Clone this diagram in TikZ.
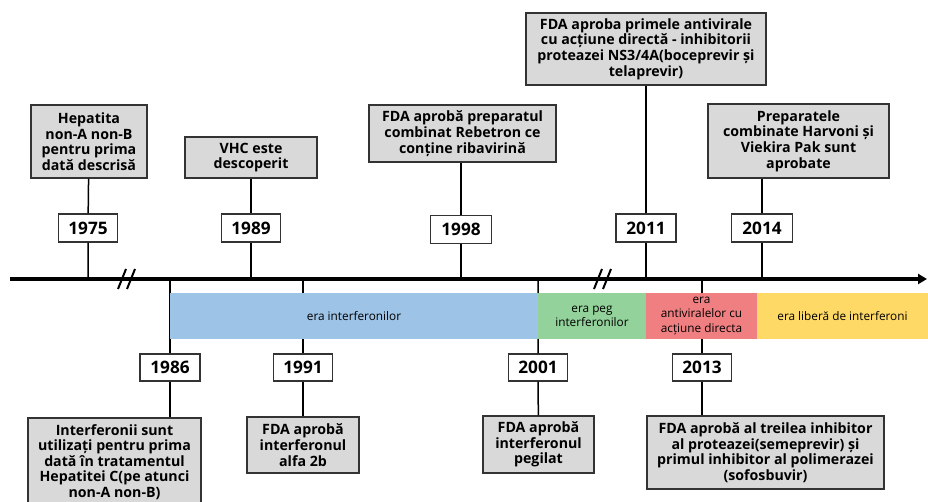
\documentclass[tikz,border=0pt]{standalone}
\usepackage{fontspec}
\setmainfont{Open Sans}
\usetikzlibrary{arrows.meta}
\definecolor{eraBlue}{HTML}{9DC3E6}
\definecolor{eraGreen}{HTML}{93D29A}
\definecolor{eraRed}{HTML}{F07F82}
\definecolor{eraYellow}{HTML}{FFD966}
\tikzset{
	event/.style={draw=black!80, line width=1.2pt, fill=black!15, inner sep=0pt, align=center,
		font=\fontsize{14.2}{15.6}\selectfont\bfseries},
	year/.style={draw=black!80, line width=1.2pt, fill=white, inner sep=0pt,
		minimum width=59pt, minimum height=28pt, font=\fontsize{17.2}{19}\selectfont\bfseries},
	era/.style={inner sep=0pt, minimum height=46pt, align=center,
		font=\fontsize{11.8}{14.3}\selectfont},
	stem/.style={line width=1.5pt},
}

\begin{document}
\begin{tikzpicture}[x=1pt, y=-1pt]
			%%%%% START %%%%%
			\useasboundingbox (0, 0) rectangle (928, 502);
			
			% axis
			\coordinate (axisL) at (10, 279);
			\coordinate (axisR) at (927, 279);
			\coordinate (t1975) at (88, 279);
			\coordinate (t1986) at (170, 279);
			\coordinate (t1989) at (251, 279);
			\coordinate (t1991) at (303, 279);
			\coordinate (t1998) at (461, 279);
			\coordinate (t2001) at (538, 279);
			\coordinate (t2011) at (646, 279);
			\coordinate (t2013) at (702, 279);
			\coordinate (t2014) at (762, 279);
			
			% years above
			\node[year] (y1975) at (88, 228) {1975};
			\node[year] (y1989) at (251, 228) {1989};
			\node[year, minimum width=61pt] (y1998) at (461, 229.5) {1998};
			\node[year, minimum width=60pt] (y2011) at (646, 228) {2011};
			\node[year, minimum width=61pt] (y2014) at (762, 228) {2014};
			
			% years below
			\node[year, minimum width=60pt, minimum height=27pt] (y1986) at (170, 367.5) {1986};
			\node[year, minimum height=27pt] (y1991) at (303, 367.5) {1991};
			\node[year, minimum height=27pt] (y2001) at (538, 367.5) {2001};
			\node[year, minimum height=27pt] (y2013) at (702, 367.5) {2013};
			
			% events above
			\node[event, minimum width=116pt, minimum height=73pt] (ev1975) at (89, 141.5)
				{Hepatita\\non-A non-B\\pentru prima\\dată descrisă};
			\node[event, minimum width=132pt, minimum height=41pt] (ev1989) at (251, 157.5)
				{VHC este\\descoperit};
			\node[event, minimum width=187pt, minimum height=57pt] (ev1998) at (462.5, 133.5)
				{FDA aprobă preparatul\\combinat Rebetron ce\\conține ribavirină};
			\node[event, minimum width=240pt, minimum height=72pt] (ev2011) at (646, 49)
				{FDA aproba primele antivirale\\cu acțiune directă - inhibitorii\\proteazei NS3/4A(boceprevir și\\telaprevir)};
			\node[event, minimum width=181pt, minimum height=74pt] (ev2014) at (798.5, 141)
				{Preparatele\\combinate Harvoni și\\Viekira Pak sunt\\aprobate};
			
			% events below
			\node[event, minimum width=173pt, minimum height=88pt] (ev1986) at (114.5, 462)
				{Interferonii sunt\\utilizați pentru prima\\dată în tratamentul\\Hepatitei C(pe atunci\\non-A non-B)};
			\node[event, minimum width=112pt, minimum height=56pt] (ev1991) at (303, 445)
				{FDA aprobă\\interferonul\\alfa 2b};
			\node[event, minimum width=111pt, minimum height=57pt] (ev2001) at (538.5, 444.5)
				{FDA aprobă\\interferonul\\pegilat};
			\node[event, minimum width=237pt, minimum height=73pt] (ev2013) at (765.5, 452.5)
				{FDA aprobă al treilea inhibitor\\al proteazei(semeprevir) și\\primul inhibitor al polimerazei\\(sofosbuvir)};
			
			% stems
			\draw[stem] (t1975) -- (y1975) -- (ev1975);
			\draw[stem] (t1989) -- (y1989) -- (ev1989);
			\draw[stem] (t1998) -- (y1998);
			\draw[stem] (y1998.north) -- (y1998.north |- ev1998.south);
			\draw[stem] (t2011) -- (y2011) -- (ev2011);
			\draw[stem] (t2014) -- (y2014);
			\draw[stem] (y2014.north) -- (y2014.north |- ev2014.south);
			\draw[stem] (t1986) -- (y1986);
			\draw[stem] (y1986.south) -- (y1986.south |- ev1986.north);
			\draw[stem] (t1991) -- (y1991) -- (ev1991);
			\draw[stem] (t2001) -- (y2001) -- (ev2001);
			\draw[stem] (t2013) -- (y2013);
			\draw[stem] (y2013.south) -- (y2013.south |- ev2013.north);
			
			% eras
			\node[era, fill=eraBlue, minimum width=368pt] (eraIfn) at (354, 316) {era interferonilor};
			\node[era, fill=eraGreen, minimum width=108pt] (eraPeg) at (592, 316) {era peg\\interferonilor};
			\node[era, fill=eraRed, minimum width=111pt] (eraDaa) at (701.5, 316) {era\\antiviralelor cu\\acțiune directa};
			\node[era, fill=eraYellow, minimum width=171pt] (eraFree) at (842.5, 316) {era liberă de interferoni};
			
			\draw[line width=3.5pt, -{Triangle[length=9pt, width=10pt]}] (axisL) -- (axisR);
			
			% breaks
			\draw[line width=2pt] (118, 289) -- (126, 269);
			\draw[line width=2pt] (127, 289) -- (135, 269);
			\draw[line width=2pt] (594, 289) -- (602, 269);
			\draw[line width=2pt] (603, 289) -- (611, 269);
			
			%%%%% END %%%%%
\end{tikzpicture}
\end{document}
